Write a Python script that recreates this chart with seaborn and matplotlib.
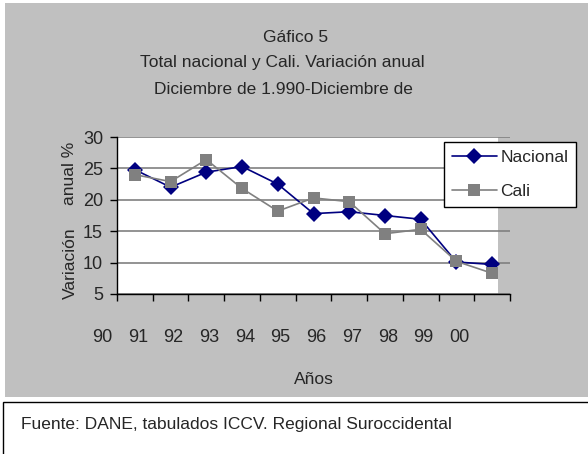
import numpy as np
import pandas as pd
import seaborn as sns
import matplotlib.pyplot as plt
from matplotlib.patches import Rectangle
from matplotlib.transforms import blended_transform_factory

# values (variación anual %)
year_labels = ["90", "91", "92", "93", "94", "95", "96", "97", "98", "99", "00"]
nacional = [24.8, 22.0, 24.4, 25.3, 22.5, 17.8, 18.1, 17.5, 16.9, 10.1, 9.7]
cali = [24.0, 22.9, 26.4, 21.8, 18.2, 20.3, 19.7, 14.6, 15.3, 10.2, 8.3]
series_names = ["Nacional", "Cali"]
y_ticks = [5, 10, 15, 20, 25, 30]

n = len(nacional)
df = pd.DataFrame({
    "pos": list(range(n)) * 2,
    "valor": nacional + cali,
    "serie": ["Nacional"] * n + ["Cali"] * n,
})

sns.set_style("white")
plt.rcParams["font.family"] = ["Liberation Sans", "DejaVu Sans"]
FS = 12.5   # text
FN = 13     # numbers

fig = plt.figure(figsize=(5.88, 4.54), dpi=100)
fig.patch.set_facecolor("white")

# gray chart area and source box
fig.patches.append(Rectangle((5 / 588, 1 - 397 / 454), 1.0, 394 / 454,
                             transform=fig.transFigure, facecolor="#c0c0c0",
                             edgecolor="none", zorder=-2))
fig.patches.append(Rectangle((3 / 588, -0.02), 1.0, 0.02 + 52 / 454,
                             transform=fig.transFigure, facecolor="white",
                             edgecolor="black", linewidth=1.0, zorder=-2))

ax = fig.add_axes([117 / 588, 1 - 294 / 454, 393 / 588, 157 / 454])
ax.set_zorder(1)
ax.set_facecolor("white")
ax.add_patch(Rectangle((0.969, 0), 0.031, 1, transform=ax.transAxes,
                       facecolor="#c0c0c0", edgecolor="none", zorder=0.2))

sns.lineplot(data=df, x="pos", y="valor", hue="serie", style="serie",
             hue_order=series_names, style_order=series_names,
             palette={"Nacional": "#000080", "Cali": "#808080"},
             markers={"Nacional": "D", "Cali": "s"}, dashes=False,
             markersize=8.5, linewidth=1.2, markeredgewidth=0, ax=ax)

ax.set_xlim(-0.5, n - 0.5)
ax.set_ylim(5, 30)
ax.set_yticks(y_ticks)
ax.set_xticks(np.arange(-0.5, n, 1.0))
ax.set_xticklabels([])
ax.set_xlabel("")
ax.set_ylabel("")
ax.tick_params(axis="y", direction="out", length=5, width=1, color="black",
               labelsize=FN, pad=5, left=True)
ax.tick_params(axis="x", direction="out", length=5, width=1, color="black",
               bottom=True)
ax.set_axisbelow(True)
ax.yaxis.grid(True, color="#808080", linewidth=1.2)
ax.xaxis.grid(False)
for side in ["left", "bottom"]:
    ax.spines[side].set_color("black")
    ax.spines[side].set_linewidth(1)
ax.spines["top"].set_visible(False)
ax.spines["right"].set_visible(False)

# year labels sit one category to the left of the points
tr = blended_transform_factory(ax.transData, ax.transAxes)
for i, lab in enumerate(year_labels):
    ax.text(i - 1 + 0.08, -0.28, lab, transform=tr, ha="center", va="center",
            fontsize=FN, clip_on=False)

fig.text(314 / 588, 1 - 380 / 454, "Años", ha="center", va="center", fontsize=FS)
fig.text(70 / 588, 1 - 173 / 454, "anual %", rotation=90, ha="center",
         va="center", fontsize=FS)
fig.text(70 / 588, 1 - 263 / 454, "Variación", rotation=90, ha="center",
         va="center", fontsize=FS)

fig.text(296 / 588, 1 - 37 / 454, "Gáfico 5", ha="center", va="center", fontsize=FS)
fig.text(282 / 588, 1 - 63 / 454, "Total nacional y Cali. Variación anual",
         ha="center", va="center", fontsize=FS)
fig.text(283 / 588, 1 - 89 / 454, "Diciembre de 1.990-Diciembre de",
         ha="center", va="center", fontsize=FS)

fig.text(21 / 588, 1 - 425 / 454,
         "Fuente: DANE, tabulados ICCV. Regional Suroccidental",
         ha="left", va="center", fontsize=FS)

handles, labels = ax.get_legend_handles_labels()
ax.legend(handles, labels, loc="upper left",
          bbox_to_anchor=(444 / 588, 1 - 142 / 454),
          bbox_transform=fig.transFigure, frameon=True, fancybox=False,
          edgecolor="black", framealpha=1, fontsize=FS, handlelength=2.6,
          labelspacing=1.1, borderpad=0.45, handletextpad=0.2,
          borderaxespad=0)
ax.get_legend().get_frame().set_linewidth(1)

fig.savefig("out.png", dpi=100)
